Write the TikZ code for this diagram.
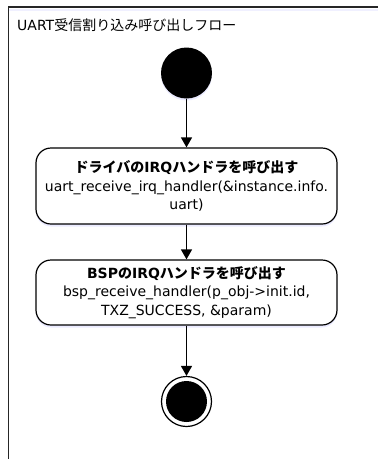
\documentclass[tikz,border=0pt]{standalone}
\usepackage{fontspec}
\setmainfont{DejaVu Sans}
\newfontfamily\cjk{Noto Sans CJK JP}
\usetikzlibrary{arrows.meta,shadows}
\begin{document}
\begin{tikzpicture}[x=1pt,y=1pt,
  every node/.style={font=\fontsize{14}{18.5}\selectfont},
  flowline/.style={line width=1.3pt,-{Triangle[width=11pt,length=10pt]}},
  actbox/.style={draw,line width=1.2pt,rounded corners=15pt,minimum width=301pt,
    align=center,inner sep=0pt,fill=white,
    general shadow={fill=blue!8,shadow yshift=-2.5pt}},
  startdot/.style={circle,fill=black,minimum size=51pt,inner sep=0pt,
    general shadow={fill=blue!8,shadow yshift=-2pt}},
  enddot/.style={circle,draw,line width=1.2pt,fill=white,minimum size=50pt,inner sep=0pt},
  framepath/.style={line width=1.8pt,draw=black!85}
]
\useasboundingbox (0,0) rectangle (378,-459);
\fill[blue!6] (9,-9) rectangle (378,-11);
\draw[framepath] (378,-7) -- (8.5,-7) -- (8.5,-459);
\node[anchor=base west,inner sep=0pt] (title) at (17,-30)
  {UART{\cjk 受信割り込み呼び出しフロー}};
\node[startdot] (start) at (186.5,-73) {};
\node[actbox,minimum height=76pt] (b1) at (186.5,-186)
  {\textbf{\cjk ドライバの\textrm{\bfseries IRQ}ハンドラを呼び出す}\\
   uart\_receive\_irq\_handler(\&instance.info.\\ uart)};
\node[actbox,minimum height=65pt] (b2) at (186.5,-292.5)
  {\textbf{BSP{\cjk の}IRQ{\cjk ハンドラを呼び出す}}\\
   bsp\_receive\_handler(p\_obj->init.id,\\ TXZ\_SUCCESS, \&param)};
\node[enddot] (end) at (186.5,-401.5) {};
\fill (end.center) circle[radius=20.5pt];
\draw[flowline] (start) -- (b1);
\draw[flowline] (b1) -- (b2);
\draw[flowline] (b2) -- (end);
\end{tikzpicture}
\end{document}
